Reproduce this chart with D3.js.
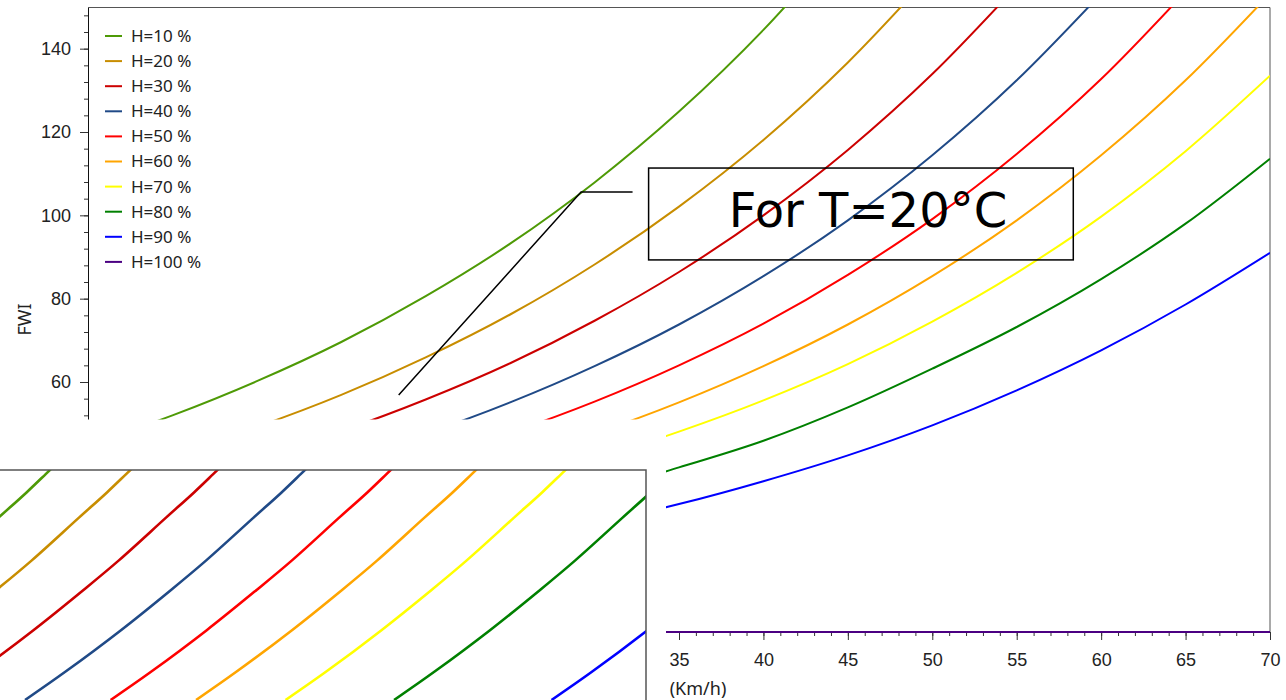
<!DOCTYPE html>
<html>
<head>
<meta charset="utf-8">
<script src="https://cdn.jsdelivr.net/npm/d3@7"></script>
<style>
  html, body { margin: 0; padding: 0; background: #fff; }
  svg { display: block; font-family: "Noto Sans", "Open Sans", sans-serif; }
</style>
</head>
<body>
<div id="chart"></div>
<script>
// wind speed (km/h) and FWI values, T = 20°C
const windSpeeds = [0, 5, 10, 15, 20, 25, 30, 35, 40, 45, 50, 55, 60, 65, 70];
const labels = ["H=10 %", "H=20 %", "H=30 %", "H=40 %", "H=50 %", "H=60 %", "H=70 %", "H=80 %", "H=90 %", "H=100 %"];
const colors = ["#4E9A06", "#C88D00", "#CC0000", "#204A87", "#FF0000", "#FFA500", "#FFFF00", "#008000", "#0000FF", "#4B0082"];

const fwiH10 = [44.9, 52.0, 60.2, 69.6, 80.6, 93.2, 107.9, 124.9, 144.5, 167.2, null, null, null, null, null];
const fwiH20 = [36.7, 42.5, 49.2, 56.9, 65.9, 76.2, 88.2, 102.1, 118.1, 136.7, 158.2, null, null, null, null];
const fwiH30 = [null, 36.0, 41.6, 48.2, 55.8, 64.5, 74.7, 86.4, 100.0, 115.7, 133.9, 155.0, null, null, null];
const fwiH40 = [null, null, 35.6, 41.2, 47.6, 55.1, 63.8, 73.8, 85.4, 98.8, 114.4, 132.4, 153.2, null, null];
const fwiH50 = [null, null, null, 35.7, 41.3, 47.8, 55.3, 64.0, 74.0, 85.7, 99.1, 114.7, 132.7, 153.7, null];
const fwiH60 = [null, null, null, null, 35.6, 41.2, 47.6, 55.1, 63.8, 73.8, 85.4, 98.8, 114.4, 132.4, 153.2];
const fwiH70 = [null, null, null, null, null, 35.9, 41.5, 48.1, 55.6, 64.3, 74.5, 86.2, 99.7, 115.4, 133.5];
const fwiH80 = [null, null, null, null, null, 28.7, 33.5, 39.5, 45.9, 53.9, 63.2, 73.2, 84.7, 98.0, 113.6];
const fwiH90 = [null, null, null, null, null, 22.2, 26.0, 30.7, 36.2, 42.4, 49.6, 58.0, 67.6, 78.6, 91.0];
const fwiH100 = [0, 0, 0, 0, 0, 0, 0, 0, 0, 0, 0, 0, 0, 0, 0];

// enlarged detail panel (bottom left): wind reached at each FWI level
const detailLevels = [20, 23.4, 28.5, 33.4, 37, 42.2, 45.3, 47.5, 49.2];
const detailH10 = [null, null, null, -5.20, -3.02, -0.09, 1.66, 2.83, 3.72];
const detailH20 = [-9.26, -6.78, -3.31, -0.22, 1.97, 4.89, 6.64, 7.81, 8.71];
const detailH30 = [-3.87, -1.39, 2.07, 5.17, 7.36, 10.28, 12.03, 13.20, 14.09];
const detailH40 = [1.55, 4.02, 7.49, 10.59, 12.77, 15.70, 17.45, 18.62, 19.51];
const detailH50 = [6.85, 9.33, 12.80, 15.89, 18.08, 21.00, 22.76, 23.93, 24.82];
const detailH60 = [12.14, 14.61, 18.08, 21.18, 23.36, 26.28, 28.04, 29.21, 30.10];
const detailH70 = [17.68, 20.16, 23.62, 26.72, 28.90, 31.83, 33.58, 34.75, 35.64];
const detailH80 = [24.40, 26.87, 30.34, 33.44, 35.62, 38.55, 40.30, 41.47, 42.36];
const detailH90 = [34.15, 36.63, 40.09, 43.19, 45.37, null, null, null, null];

const xTicks = [35, 40, 45, 50, 55, 60, 65, 70];
const yTicks = [0, 20, 40, 60, 80, 100, 120, 140];

// annotation (data units)
const calloutLine = [[18.4, 56.9], [29.2, 105.6], [32.25, 105.6]];
const calloutBox = [[33.2, 111.35], [58.35, 89.3]];
const calloutText = "For T=20°C";
const calloutAt = [37.95, 97.2];

drawChart("#chart");

function drawChart(container) {
  const width = 1286;
  const height = 700;
  const marginTop = 7;
  const marginRight = 16;
  const marginBottom = 68;
  const marginLeft = 88;

  const x = d3.scaleLinear().domain([0, 70]).range([marginLeft, width - marginRight]);
  const y = d3.scaleLinear().domain([0, 150]).range([height - marginBottom, marginTop]);

  const svg = d3.create("svg")
      .attr("width", width)
      .attr("height", height)
      .attr("viewBox", [0, 0, width, height]);

  svg.append("defs").append("clipPath").attr("id", "plot-clip")
    .append("rect")
      .attr("x", marginLeft).attr("y", marginTop)
      .attr("width", width - marginRight - marginLeft)
      .attr("height", height - marginBottom - marginTop + 2);

  // minor ticks
  svg.append("g")
      .attr("transform", `translate(${marginLeft},0)`)
      .call(d3.axisLeft(y).tickValues(d3.range(0, 150, 4)).tickSize(4).tickSizeOuter(0).tickFormat(""))
      .call(g => g.select(".domain").remove())
      .call(g => g.selectAll(".tick line").attr("stroke", "#333"));
  svg.append("g")
      .attr("transform", `translate(0,${height - marginBottom})`)
      .call(d3.axisBottom(x).tickValues(d3.range(0, 71, 1)).tickSize(4).tickSizeOuter(0).tickFormat(""))
      .call(g => g.select(".domain").remove())
      .call(g => g.selectAll(".tick line").attr("stroke", "#333"));

  // major ticks
  svg.append("g")
      .attr("transform", `translate(${marginLeft},0)`)
      .call(d3.axisLeft(y).tickValues(yTicks).tickSize(8).tickPadding(9).tickSizeOuter(0))
      .call(g => g.select(".domain").attr("stroke", "#111"))
      .call(g => g.selectAll(".tick line").attr("stroke", "#333"))
      .call(g => g.selectAll(".tick text").attr("font-size", 18).attr("fill", "#222").attr("font-family", null));
  svg.append("g")
      .attr("transform", `translate(0,${height - marginBottom})`)
      .call(d3.axisBottom(x).tickValues(xTicks).tickSize(8).tickPadding(13).tickSizeOuter(0))
      .call(g => g.select(".domain").attr("stroke", "#111"))
      .call(g => g.selectAll(".tick line").attr("stroke", "#333"))
      .call(g => g.selectAll(".tick text").attr("font-size", 18).attr("fill", "#222").attr("font-family", null));

  // frame
  svg.append("path")
      .attr("fill", "none")
      .attr("stroke", "#555")
      .attr("d", `M${marginLeft},${marginTop + 0.5}H${width - marginRight}V${height - marginBottom}`);

  svg.append("text")
      .attr("transform", `translate(25,${(marginTop + height - marginBottom) / 2}) rotate(-90)`)
      .attr("text-anchor", "middle")
      .attr("dy", "0.35em")
      .attr("font-size", 18)
      .attr("fill", "#222")
      .text("FWI");

  svg.append("text")
      .attr("x", 698)
      .attr("y", 695)
      .attr("text-anchor", "middle")
      .attr("font-size", 18)
      .attr("fill", "#222")
      .text("(Km/h)");

  const allSeries = [fwiH10, fwiH20, fwiH30, fwiH40, fwiH50, fwiH60, fwiH70, fwiH80, fwiH90, fwiH100];
  const series = allSeries.map((vals, i) => ({
    label: labels[i],
    color: colors[i],
    points: windSpeeds.map((w, j) => ({w, f: vals[j]}))
  }));

  const line = d3.line()
      .defined(d => d.f != null)
      .curve(d3.curveMonotoneX)
      .x(d => x(d.w))
      .y(d => y(d.f));

  svg.append("g")
      .attr("clip-path", "url(#plot-clip)")
      .attr("fill", "none")
      .attr("stroke-width", 2)
      .selectAll("path")
      .data(series)
      .join("path")
        .attr("stroke", d => d.color)
        .attr("d", d => line(d.points));

  // callout
  svg.append("path")
      .datum(calloutLine)
      .attr("fill", "none")
      .attr("stroke", "#000")
      .attr("stroke-width", 1.5)
      .attr("d", d3.line().x(d => x(d[0])).y(d => y(d[1])));
  svg.append("rect")
      .attr("x", x(calloutBox[0][0]))
      .attr("y", y(calloutBox[0][1]))
      .attr("width", x(calloutBox[1][0]) - x(calloutBox[0][0]))
      .attr("height", y(calloutBox[1][1]) - y(calloutBox[0][1]))
      .attr("fill", "none")
      .attr("stroke", "#000")
      .attr("stroke-width", 1.5);
  svg.append("text")
      .attr("x", x(calloutAt[0]))
      .attr("y", y(calloutAt[1]))
      .attr("font-family", "DejaVu Sans")
      .attr("font-size", 48)
      .attr("fill", "#000")
      .text(calloutText);

  // legend
  const legend = svg.append("g")
      .selectAll("g")
      .data(series)
      .join("g")
        .attr("transform", (d, i) => `translate(105,${36 + i * 25.1})`);
  legend.append("line")
      .attr("x2", 17)
      .attr("stroke", d => d.color)
      .attr("stroke-width", 2);
  legend.append("text")
      .attr("x", 26)
      .attr("dy", "0.35em")
      .attr("font-size", 17)
      .attr("fill", "#222")
      .text(d => d.label);

  // lower-left cut and enlarged detail panel
  svg.append("rect")
      .attr("x", 0).attr("y", 419.5)
      .attr("width", 666).attr("height", height - 419.5)
      .attr("fill", "#fff");

  const xi = d3.scaleLinear().domain([0, 40]).range([0, 646]);
  const yi = d3.scaleLinear().domain([20, 48]).range([700, 470]);

  svg.append("defs").append("clipPath").attr("id", "detail-clip")
    .append("rect").attr("x", 0).attr("y", 470).attr("width", 646).attr("height", 230);

  const detailSeries = [detailH10, detailH20, detailH30, detailH40, detailH50, detailH60, detailH70, detailH80, detailH90]
    .map((vals, i) => ({
      color: colors[i],
      points: detailLevels.map((f, j) => ({w: vals[j], f}))
    }));

  const detailLine = d3.line()
      .defined(d => d.w != null)
      .curve(d3.curveCatmullRom)
      .x(d => xi(d.w))
      .y(d => yi(d.f));

  svg.append("g")
      .attr("clip-path", "url(#detail-clip)")
      .attr("fill", "none")
      .attr("stroke-width", 2.6)
      .selectAll("path")
      .data(detailSeries)
      .join("path")
        .attr("stroke", d => d.color)
        .attr("d", d => detailLine(d.points));

  svg.append("path")
      .attr("fill", "none")
      .attr("stroke", "#555")
      .attr("stroke-width", 1.5)
      .attr("d", `M0,470H646V700`);

  d3.select(container).node().append(svg.node());
}
</script>
</body>
</html>
